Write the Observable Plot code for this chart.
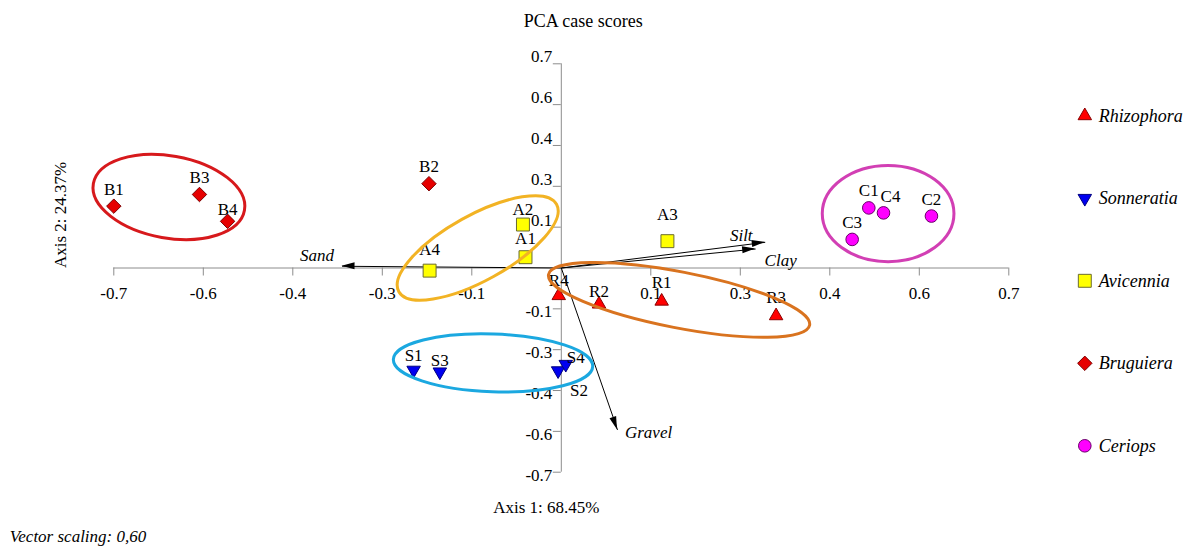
<!DOCTYPE html>
<html>
<head>
<meta charset="utf-8">
<script src="https://cdn.jsdelivr.net/npm/d3@7"></script>
<script src="https://cdn.jsdelivr.net/npm/@observablehq/plot@0.6"></script>
<style>
  body { margin: 0; background: #fff; }
  #chart svg { display: block; }
</style>
</head>
<body>
<div id="chart"></div>
<script>
// PCA case scores: samples of five mangrove genera, sediment vectors, group outlines.
const species = ["Rhizophora", "Sonneratia", "Avicennia", "Bruguiera", "Ceriops"];

const sampleIds     = ["R1", "R2", "R3", "R4", "S1", "S2", "S3", "S4", "A1", "A2", "A3", "A4", "B1", "B2", "B3", "B4", "C1", "C2", "C3", "C4"];
const sampleSpecies = ["Rhizophora", "Rhizophora", "Rhizophora", "Rhizophora",
                       "Sonneratia", "Sonneratia", "Sonneratia", "Sonneratia",
                       "Avicennia", "Avicennia", "Avicennia", "Avicennia",
                       "Bruguiera", "Bruguiera", "Bruguiera", "Bruguiera",
                       "Ceriops", "Ceriops", "Ceriops", "Ceriops"];
const axis1Scores = [0.157, 0.059, 0.336, -0.004, -0.231, -0.005, -0.190, 0.007, -0.056, -0.060, 0.166, -0.206, -0.700, -0.207, -0.566, -0.522, 0.481, 0.579, 0.455, 0.504];
const axis2Scores = [-0.114, -0.124, -0.164, -0.095, -0.350, -0.352, -0.356, -0.330, 0.037, 0.149, 0.092, -0.009, 0.212, 0.289, 0.252, 0.160, 0.206, 0.178, 0.098, 0.189];

// Environmental vectors (scaled by 0.60)
const variables    = ["Sand", "Silt", "Clay", "Gravel"];
const vectorAxis1  = [-0.343, 0.319, 0.304, 0.088];
const vectorAxis2  = [0.006, 0.088, 0.065, -0.555];

// Axis ticks every 0.14, labelled to one decimal
const tickValues = [-0.7, -0.56, -0.42, -0.28, -0.14, 0.14, 0.28, 0.42, 0.56, 0.7];
const tickLabels = ["-0.7", "-0.6", "-0.4", "-0.3", "-0.1", "0.1", "0.3", "0.4", "0.6", "0.7"];

// Group outlines (centre and semi-axes in score units, tilt in degrees)
const groupSpecies = ["Bruguiera", "Avicennia", "Rhizophora", "Sonneratia", "Ceriops"];
const groupCenter1 = [-0.613, -0.130, 0.185, -0.106, 0.512];
const groupCenter2 = [0.242, 0.067, -0.111, -0.327, 0.185];
const groupRadius1 = [0.120, 0.141, 0.208, 0.156, 0.103];
const groupRadius2 = [0.141, 0.112, 0.096, 0.099, 0.165];
const groupTilt    = [10, -29, 11, 2, 0];

const samples = sampleIds.map((id, i) => ({id, species: sampleSpecies[i], a1: axis1Scores[i], a2: axis2Scores[i]}));
const vectors = variables.map((name, i) => ({name, a1: vectorAxis1[i], a2: vectorAxis2[i]}));
const ticks = tickValues.map((v, i) => ({v, label: tickLabels[i]}));
const groups = groupSpecies.map((s, i) => ({species: s, cx: groupCenter1[i], cy: groupCenter2[i], rx: groupRadius1[i], ry: groupRadius2[i], tilt: groupTilt[i]}));

// Downward-pointing triangle
const triangleDown = {
  draw(context, size) {
    const sqrt3 = Math.sqrt(3);
    const y = -Math.sqrt(size / (sqrt3 * 3));
    context.moveTo(0, -y * 2);
    context.lineTo(-sqrt3 * y, y);
    context.lineTo(sqrt3 * y, y);
    context.closePath();
  }
};

const markerStyle = {
  Rhizophora: {symbol: "triangle", r: 5, fill: "#ff0000", stroke: "#8a0000"},
  Sonneratia: {symbol: triangleDown, r: 5, fill: "#0000f0", stroke: "#000080"},
  Avicennia:  {symbol: "square", r: 7.3, fill: "#ffff00", stroke: "#6b6b30"},
  Bruguiera:  {symbol: "diamond2", r: 6.5, fill: "#e60000", stroke: "#7a0000"},
  Ceriops:    {symbol: "circle", r: 6.3, fill: "#ff00ff", stroke: "#6a006a"}
};
const outlineColor = {
  Bruguiera: "#d7191c",
  Avicennia: "#f2b324",
  Rhizophora: "#d9731f",
  Sonneratia: "#1ba8e0",
  Ceriops: "#d23fb4"
};

// Label offsets (pixels) where a label does not sit straight above its marker
const labelOffset = {
  B4: [0, -12], A2: [0, -15], A1: [0, -19], A4: [0, -21], A3: [0, -27],
  R4: [0, -15], R2: [0, -13], R1: [0, -19], R3: [0, -18],
  S1: [0, -15], S3: [0, -11], S4: [10, -7], S2: [21, 20], C4: [7, -16]
};
const vectorLabelOffset = {Sand: [-25, -11], Silt: [-24, -7], Clay: [25, 12], Gravel: [31, 3]};

const font = "Liberation Serif";
const axisGray = "#8c8c8c";
const txt = {fontFamily: font, fontSize: 17, fill: "#000", lineAnchor: "middle"};

function groupOutlines(index, scales) {
  const {x, y} = scales;
  const kx = Math.abs(x(1) - x(0)), ky = Math.abs(y(1) - y(0));
  const g = d3.create("svg:g").attr("fill", "none").attr("stroke-width", 3);
  for (const d of groups) {
    const cx = x(d.cx), cy = y(d.cy);
    g.append("ellipse")
      .attr("cx", cx).attr("cy", cy)
      .attr("rx", d.rx * kx).attr("ry", d.ry * ky)
      .attr("transform", `rotate(${d.tilt} ${cx} ${cy})`)
      .attr("stroke", outlineColor[d.species]);
  }
  return g.node();
}

function vectorHeads(index, scales) {
  const {x, y} = scales;
  const g = d3.create("svg:g").attr("fill", "#000");
  const len = 13, half = 3.5;
  for (const v of vectors) {
    const x0 = x(0), y0 = y(0), x1 = x(v.a1), y1 = y(v.a2);
    const a = Math.atan2(y1 - y0, x1 - x0);
    const bx = x1 - len * Math.cos(a), by = y1 - len * Math.sin(a);
    const px = -Math.sin(a) * half, py = Math.cos(a) * half;
    g.append("path").attr("d", `M${x1},${y1}L${bx + px},${by + py}L${bx - px},${by - py}Z`);
  }
  return g.node();
}

const marks = [
  // axes crossing at the origin
  Plot.ruleY([0], {x1: -0.7, x2: 0.7, stroke: axisGray}),
  Plot.ruleX([0], {y1: -0.7, y2: 0.7, stroke: axisGray}),
  Plot.ruleX(ticks, {x: "v", y1: 0, y2: 0, insetBottom: -8, stroke: axisGray}),
  Plot.ruleY(ticks, {y: "v", x1: 0, x2: 0, insetLeft: -8, stroke: axisGray}),
  Plot.text(ticks, {x: "v", y: 0, text: "label", dy: 26, ...txt}),
  Plot.text(ticks.filter(d => d.v > 0), {x: 0, y: "v", text: "label", dx: -9, dy: -7, textAnchor: "end", ...txt}),
  Plot.text(ticks.filter(d => d.v < 0), {x: 0, y: "v", text: "label", dx: -9, dy: 3, textAnchor: "end", ...txt}),

  // environmental vectors
  Plot.link(vectors, {x1: 0, y1: 0, x2: "a1", y2: "a2", stroke: "#000", strokeWidth: 1}),
  vectorHeads,
  ...vectors.map(v => Plot.text([v], {
    x: "a1", y: "a2", text: "name", fontStyle: "italic", ...txt,
    dx: vectorLabelOffset[v.name][0], dy: vectorLabelOffset[v.name][1]
  })),

  // sample scores
  ...species.map(s => Plot.dot(samples.filter(d => d.species === s), {
    x: "a1", y: "a2", ...markerStyle[s], strokeWidth: 1
  })),
  ...samples.map(d => {
    const [dx, dy] = labelOffset[d.id] || [0, -17];
    return Plot.text([d], {x: "a1", y: "a2", text: "id", dx, dy, ...txt});
  }),

  // group outlines
  groupOutlines,

  // titles
  Plot.text(["PCA case scores"], {frameAnchor: "top", dx: 22, dy: -43, ...txt, fontSize: 18}),
  Plot.text(["Axis 1: 68.45%"], {frameAnchor: "bottom", dx: -15, dy: 35, ...txt}),
  Plot.text(["Axis 2: 24.37%"], {frameAnchor: "left", dx: -53, rotate: -90, ...txt}),
  Plot.text(["Vector scaling: 0,60"], {frameAnchor: "bottom-left", dx: -104, dy: 64, textAnchor: "start", fontStyle: "italic", ...txt}),

  // legend
  ...species.map((s, i) => Plot.dot([s], {
    frameAnchor: "top-right", dx: 76, dy: 52 + i * 82.5, ...markerStyle[s], strokeWidth: 1
  })),
  ...species.map((s, i) => Plot.text([s], {
    frameAnchor: "top-right", dx: 90, dy: 52 + i * 82.5, text: d => d,
    textAnchor: "start", fontStyle: "italic", ...txt, fontSize: 18
  }))
];

const chart = Plot.plot({
  width: 1189,
  height: 548,
  marginLeft: 113.3,
  marginRight: 180.7,
  marginTop: 63.3,
  marginBottom: 76.3,
  x: {domain: [-0.7, 0.7], axis: null},
  y: {domain: [-0.7, 0.7], axis: null},
  style: {fontFamily: font, fontSize: "17px", color: "#000", background: "#fff", overflow: "visible"},
  marks
});

document.getElementById("chart").appendChild(chart);
</script>
</body>
</html>
